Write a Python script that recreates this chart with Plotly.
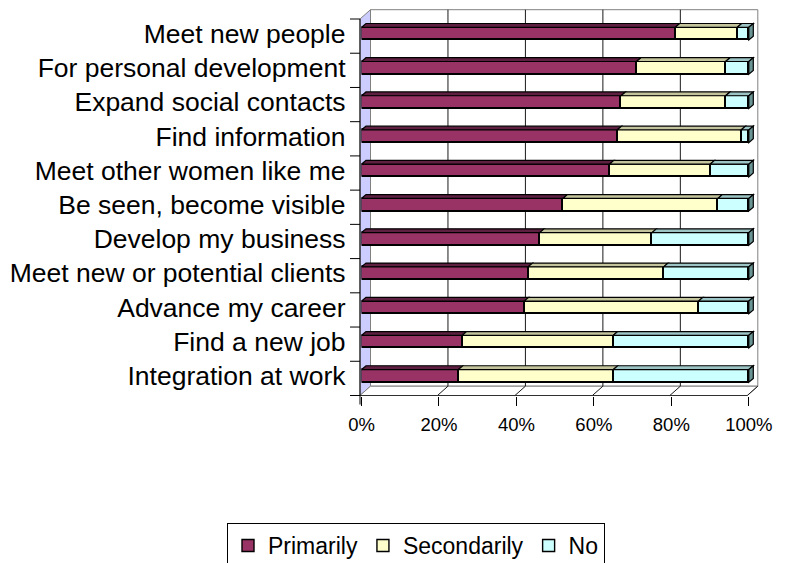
import plotly.graph_objects as go

# ---- data ---------------------------------------------------------------
categories = [
    "Meet new people",
    "For personal development",
    "Expand social contacts",
    "Find information",
    "Meet other women like me",
    "Be seen, become visible",
    "Develop my business",
    "Meet new or potential clients",
    "Advance my career",
    "Find a new job",
    "Integration at work",
]
primarily = [81, 71, 67, 66, 64, 52, 46, 43, 42, 26, 25]
secondarily = [16, 23, 27, 32, 26, 40, 29, 35, 45, 39, 40]
no_answer = [3, 6, 6, 2, 10, 8, 25, 22, 13, 35, 35]

series_names = ["Primarily", "Secondarily", "No"]
tick_values = [0, 20, 40, 60, 80, 100]
tick_labels = ["0%", "20%", "40%", "60%", "80%", "100%"]

# ---- styling / geometry -------------------------------------------------
W, H = 788, 563
FONT = "Liberation Sans, Arial, sans-serif"
FRONT_COLORS = ["#993366", "#FFFFCC", "#CCFFFF"]
TOP_COLORS = ["#5E1F40", "#C4C49C", "#9CC4C4"]
SIDE_COLOR = "#6B9494"
WALL_COLOR = "#CCCCFF"
EDGE_GRAY = "#808080"

PX_PER_PCT = 3.873          # horizontal scale, pixels per percent
FRONT_LEFT, FRONT_TOP, FRONT_BOTTOM = 360.0, 19.0, 395.5
DEPTH_X, DEPTH_Y = 10.5, 9.3  # offset of the back wall
BAR_SHIFT_X, BAR_SHIFT_Y = 1.5, 2.5
BAR_DX, BAR_DY = 4.5, 3.8     # visible depth of each bar
BAR_WIDTH = 0.37
X_PAD = 3                     # extra room on the bar axis for the side faces

n = len(categories)
rows = list(range(n))


def fx(px):
    return px / W


def fy(py):
    return 1 - py / H


front_right = FRONT_LEFT + 100 * PX_PER_PCT
back_left, back_right = FRONT_LEFT + DEPTH_X, front_right + DEPTH_X
back_top, back_bottom = FRONT_TOP - DEPTH_Y, FRONT_BOTTOM - DEPTH_Y

bar_left = FRONT_LEFT + BAR_SHIFT_X
bar_right = bar_left + (100 + X_PAD) * PX_PER_PCT
bar_top, bar_bottom = FRONT_TOP - BAR_SHIFT_Y, FRONT_BOTTOM - BAR_SHIFT_Y
row_px = (bar_bottom - bar_top) / n

fig = go.Figure()

series = [primarily, secondarily, no_answer]
for name, vals, col in zip(series_names, series, FRONT_COLORS):
    fig.add_trace(go.Bar(
        name=name, x=vals, y=rows, orientation="h", width=BAR_WIDTH,
        marker=dict(color=col, line=dict(color="black", width=1.4)),
    ))

shapes = []


def ppath(points):
    return "M " + " L ".join(f"{fx(a):.5f},{fy(b):.5f}" for a, b in points) + " Z"


def pline(x0, y0, x1, y1, color, width=1, layer="below"):
    return dict(type="line", xref="paper", yref="paper", layer=layer,
                x0=fx(x0), x1=fx(x1), y0=fy(y0), y1=fy(y1),
                line=dict(color=color, width=width))


# back wall, side wall and floor
shapes.append(dict(type="rect", xref="paper", yref="paper", layer="below",
                   x0=fx(back_left), x1=fx(back_right),
                   y0=fy(back_bottom), y1=fy(back_top),
                   fillcolor="white", line=dict(color=EDGE_GRAY, width=1)))
shapes.append(dict(type="path", xref="paper", yref="paper", layer="below",
                   path=ppath([(FRONT_LEFT, FRONT_TOP), (back_left, back_top),
                               (back_left, back_bottom), (FRONT_LEFT, FRONT_BOTTOM)]),
                   fillcolor=WALL_COLOR, line=dict(color=EDGE_GRAY, width=1)))
shapes.append(dict(type="path", xref="paper", yref="paper", layer="below",
                   path=ppath([(FRONT_LEFT, FRONT_BOTTOM), (front_right, FRONT_BOTTOM),
                               (back_right, back_bottom), (back_left, back_bottom)]),
                   fillcolor="white", line=dict(color=EDGE_GRAY, width=1)))

# gridlines on the back wall and their continuation across the floor
for v in tick_values[1:]:
    xb = back_left + v * PX_PER_PCT
    xf = FRONT_LEFT + v * PX_PER_PCT
    if v < 100:
        shapes.append(pline(xb, back_top, xb, back_bottom, "#1a1a1a"))
    shapes.append(pline(xf, FRONT_BOTTOM, xb, back_bottom, "#1a1a1a"))

# front edges of the box: the value axis line and the category axis line
shapes.append(pline(FRONT_LEFT, FRONT_BOTTOM, front_right, FRONT_BOTTOM, "#303030"))
shapes.append(pline(FRONT_LEFT, FRONT_TOP, FRONT_LEFT, FRONT_BOTTOM + 9, "black"))
cat_step = (FRONT_BOTTOM - FRONT_TOP) / n
for k in range(n + 1):
    yk = FRONT_TOP + k * cat_step
    shapes.append(pline(FRONT_LEFT - 10, yk, FRONT_LEFT, yk, "black"))

# top faces of every segment and the right face of each full bar
dx = BAR_DX / PX_PER_PCT
dy = BAR_DY / row_px
for r in rows:
    left = 0.0
    yt = r - BAR_WIDTH / 2
    yb = r + BAR_WIDTH / 2
    for k, vals in enumerate(series):
        right = left + vals[r]
        shapes.append(dict(
            type="path", xref="x", yref="y", layer="above",
            path=(f"M {left},{yt} L {right},{yt} L {right + dx},{yt - dy} "
                  f"L {left + dx},{yt - dy} Z"),
            fillcolor=TOP_COLORS[k], line=dict(color="black", width=1.2)))
        left = right
    shapes.append(dict(
        type="path", xref="x", yref="y", layer="above",
        path=(f"M {left},{yb} L {left},{yt} L {left + dx},{yt - dy} "
              f"L {left + dx},{yb - dy} Z"),
        fillcolor=SIDE_COLOR, line=dict(color="black", width=1.2)))

fig.update_layout(
    width=W, height=H, autosize=False,
    margin=dict(l=0, r=0, t=0, b=0, pad=0, autoexpand=False),
    paper_bgcolor="white", plot_bgcolor="rgba(0,0,0,0)",
    barmode="stack", bargap=0,
    font=dict(family=FONT, color="black"),
    shapes=shapes,
    showlegend=True,
    legend=dict(orientation="h", x=fx(416), xanchor="center",
                y=fy(523), yanchor="top", traceorder="normal",
                bordercolor="black", borderwidth=1, bgcolor="white",
                font=dict(size=23, family=FONT, color="black")),
    xaxis=dict(domain=[fx(bar_left), fx(bar_right)], range=[0, 100 + X_PAD],
               anchor="free", position=fy(FRONT_BOTTOM),
               tickvals=tick_values, ticktext=tick_labels,
               ticks="outside", ticklen=9, tickcolor="black", tickwidth=1,
               showline=False, showgrid=False, zeroline=False,
               ticklabelstandoff=3,
               tickfont=dict(size=18.5, family=FONT, color="black"),
               fixedrange=True),
    yaxis=dict(domain=[fy(bar_bottom), fy(bar_top)], range=[n - 0.5, -0.5],
               tickvals=rows, ticktext=categories, ticks="",
               showgrid=False, zeroline=False, showline=False,
               ticklabelstandoff=15,
               tickfont=dict(size=26.5, family=FONT, color="black"),
               fixedrange=True),
)

fig.write_html("out.html")
